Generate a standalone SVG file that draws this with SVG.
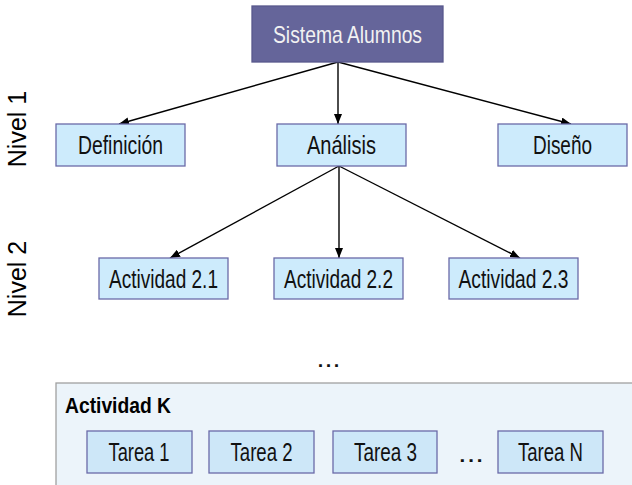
<svg xmlns="http://www.w3.org/2000/svg" width="632" height="485" viewBox="0 0 632 485">
<defs>
<style>
.lvl{fill:#cdebfc;stroke:#6a6aa8;stroke-width:1.3}
.task{fill:#cde7f8;stroke:#6a6aa8;stroke-width:1.3}
.t{font-family:"Liberation Sans",Arial,sans-serif;font-size:25px;fill:#111;text-anchor:middle}
.side{font-family:"Liberation Sans",Arial,sans-serif;font-size:25px;fill:#000;text-anchor:middle}
.edge{stroke:#000;stroke-width:1.4;fill:none;marker-end:url(#ah)}
</style>
<marker id="ah" markerUnits="userSpaceOnUse" markerWidth="10" markerHeight="8" refX="10" refY="4" orient="auto">
<path d="M0,0 L10,4 L0,8 z" fill="#000"/>
</marker>
</defs>
<rect width="632" height="485" fill="#fff"/>
<g id="labels">
<text class="side" transform="translate(26,129) rotate(-90)">Nivel 1</text>
<text class="side" transform="translate(26,279) rotate(-90)">Nivel 2</text>
</g>
<g id="connectors">
<line class="edge" x1="338" y1="62" x2="119" y2="124"/>
<line class="edge" x1="338" y1="62" x2="338" y2="124"/>
<line class="edge" x1="338" y1="62" x2="571" y2="124"/>
<line class="edge" x1="339" y1="166" x2="170" y2="258"/>
<line class="edge" x1="339" y1="166" x2="339" y2="258"/>
<line class="edge" x1="339" y1="166" x2="520" y2="258"/>
</g>
<g id="sistema">
<rect x="252" y="6" width="191" height="56" fill="#65659a" stroke="#58588c" stroke-width="1.3"/>
<text class="t" x="347.5" y="43" style="fill:#f2f2f2;font-size:24px" textLength="149" lengthAdjust="spacingAndGlyphs">Sistema Alumnos</text>
</g>
<g id="definicion">
<rect class="lvl" x="56" y="124" width="129" height="42"/>
<text class="t" x="120.5" y="154" textLength="85" lengthAdjust="spacingAndGlyphs">Definición</text>
</g>
<g id="analisis">
<rect class="lvl" x="277" y="124" width="129" height="42"/>
<text class="t" x="341.5" y="154" textLength="69" lengthAdjust="spacingAndGlyphs">Análisis</text>
</g>
<g id="diseno">
<rect class="lvl" x="498" y="124" width="129" height="42"/>
<text class="t" x="562.5" y="154" textLength="59" lengthAdjust="spacingAndGlyphs">Diseño</text>
</g>
<g id="act21">
<rect class="lvl" x="99" y="258" width="129" height="41"/>
<text class="t" x="163.5" y="288" textLength="109" lengthAdjust="spacingAndGlyphs">Actividad 2.1</text>
</g>
<g id="act22">
<rect class="lvl" x="274" y="258" width="129" height="41"/>
<text class="t" x="338.5" y="288" textLength="109" lengthAdjust="spacingAndGlyphs">Actividad 2.2</text>
</g>
<g id="act23">
<rect class="lvl" x="449" y="258" width="129" height="41"/>
<text class="t" x="513.5" y="288" textLength="110" lengthAdjust="spacingAndGlyphs">Actividad 2.3</text>
</g>
<g id="ellipsis">
<text class="t" x="328.5" y="367" textLength="24" lengthAdjust="spacingAndGlyphs">...</text>
</g>
<g id="actividadK">
<rect x="56" y="383" width="590" height="120" fill="#ecf4fa" stroke="#a0a0a0" stroke-width="1.3"/>
<text x="65" y="413" font-family="'Liberation Sans',Arial,sans-serif" font-size="22" font-weight="bold" fill="#000" textLength="106" lengthAdjust="spacingAndGlyphs">Actividad K</text>
</g>
<g id="tarea1">
<rect class="task" x="87" y="431" width="105" height="42"/>
<text class="t" x="139" y="461" textLength="61" lengthAdjust="spacingAndGlyphs">Tarea 1</text>
</g>
<g id="tarea2">
<rect class="task" x="209" y="431" width="105" height="42"/>
<text class="t" x="261.5" y="461" textLength="62" lengthAdjust="spacingAndGlyphs">Tarea 2</text>
</g>
<g id="tarea3">
<rect class="task" x="333" y="431" width="104" height="42"/>
<text class="t" x="385.5" y="461" textLength="63" lengthAdjust="spacingAndGlyphs">Tarea 3</text>
</g>
<g id="tareaDots">
<text class="t" x="471" y="462" textLength="26" lengthAdjust="spacingAndGlyphs">...</text>
</g>
<g id="tareaN">
<rect class="task" x="498" y="431" width="105" height="42"/>
<text class="t" x="550.5" y="461" textLength="65" lengthAdjust="spacingAndGlyphs">Tarea N</text>
</g>
</svg>
